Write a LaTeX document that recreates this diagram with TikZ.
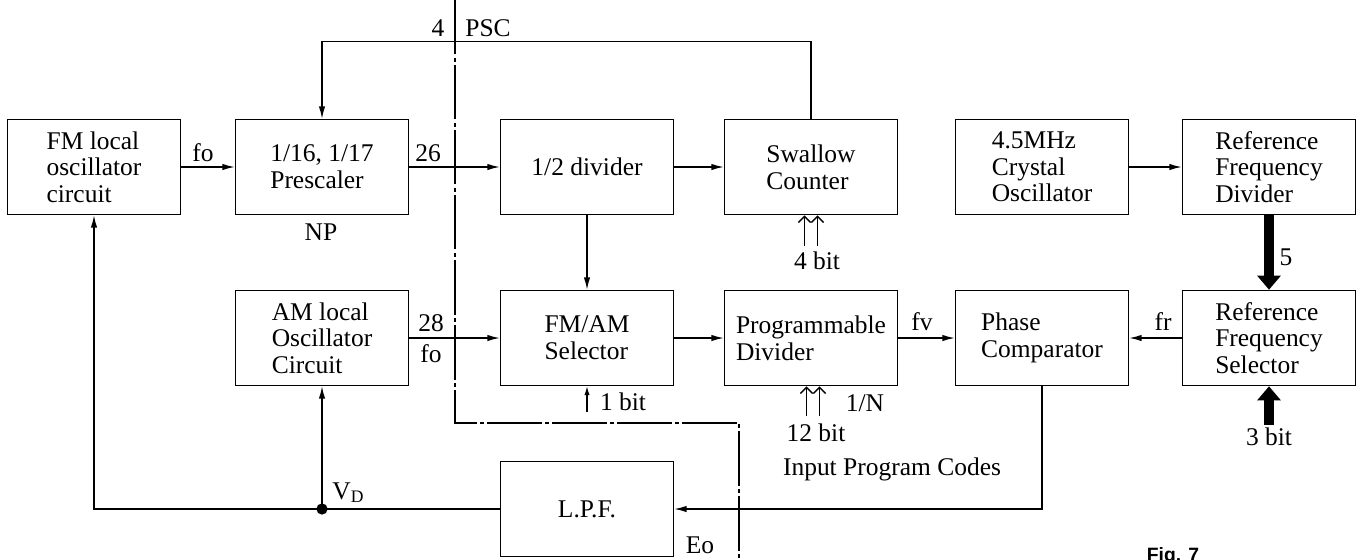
\documentclass[tikz,border=0pt]{standalone}
\usepackage{fontspec}
\setmainfont{Liberation Serif}
\newfontfamily\figfont{Liberation Sans}
\usetikzlibrary{arrows.meta}
\tikzset{
  blk/.style={draw, line width=0.9pt, minimum width=3.46cm, minimum height=1.9cm, align=left, inner sep=2pt, font=\fontsize{14.5}{15.2}\selectfont},
  lbl/.style={font=\fontsize{14.5}{15.2}\selectfont, inner sep=1pt},
  wire/.style={line width=0.7pt},
  arr/.style={wire, -{Latex[length=7pt,width=3.6pt]}},
  bus/.style={line width=6pt, -{Triangle[length=8pt,width=13pt]}},
  pin/.style={line width=0.8pt, -{Straight Barb[length=3.5pt,width=7pt]}},
  bound/.style={line width=1.1pt, dash pattern=on 31pt off 2pt on 2pt off 2pt},
}
\begin{document}
\begin{tikzpicture}[x=0.02cm, y=-0.02cm]
\useasboundingbox (0,0) rectangle (1361,559);
% upper row
\node[blk] (fmosc) at (94,167) {FM local\\oscillator\\circuit};
\node[blk] (presc) at (322,167) {1/16, 1/17\\Prescaler};
\node[blk] (half) at (587,167) {1/2 divider};
\node[blk] (swallow) at (811,167) {Swallow\\Counter};
\node[blk] (xtal) at (1042,167) {4.5MHz\\Crystal\\Oscillator};
\node[blk] (refdiv) at (1269,167) {Reference\\Frequency\\Divider};
% lower row
\node[blk] (amosc) at (322,338) {AM local\\Oscillator\\Circuit};
\node[blk] (sel) at (587,338) {FM/AM\\Selector};
\node[blk] (prog) at (811,338) {Programmable\\Divider};
\node[blk] (phase) at (1042,338) {Phase\\Comparator};
\node[blk] (refsel) at (1269,338) {Reference\\Frequency\\Selector};
\node[blk] (lpf) at (587,509) {L.P.F.};

% signal path
\draw[arr] (fmosc) -- (presc);
\draw[arr] (presc) -- (half);
\draw[arr] (half) -- (swallow);
\draw[arr] (xtal) -- (refdiv);
\draw[arr] (half) -- (sel);
\draw[arr] (amosc) -- (sel);
\draw[arr] (sel) -- (prog);
\draw[arr] (prog) -- (phase);
\draw[arr] (refsel) -- (phase);
\draw[arr] (swallow.north) -- ++(0,-77) -| (presc.north);
\draw[bus] (refdiv) -- (refsel);

% loop filter and feedback
\draw[arr] (phase.south) |- (lpf.east);
\draw[arr] (lpf.west) -| (fmosc.south);
\coordinate (vd) at (amosc.south |- lpf.west);
\fill (vd) circle (3.2pt);
\draw[arr] (vd) -- (amosc.south);

% control inputs
\coordinate (sc4) at (811,246);
\coordinate (pd12) at (813,416);
\coordinate (sel1) at (587,412);
\coordinate (rs3) at (1269,425);
\foreach \dx in {-3.7pt,3.7pt} {
  \draw[pin] ([xshift=\dx]sc4) -- ([xshift=\dx]sc4 |- swallow.south);
  \draw[pin] ([xshift=\dx]pd12) -- ([xshift=\dx]pd12 |- prog.south);
}
\draw[wire, -{Latex[length=5pt,width=3pt]}] (sel1) -- (sel.south);
\draw[bus] (rs3) -- (refsel.south);

% chip boundary
\coordinate (btop) at (455,0);
\coordinate (bleft) at (455,423);
\coordinate (bright) at (739,423);
\coordinate (bbot) at (739,559);
\draw[bound] (btop) -- (bleft) -- (bright) -- (bbot);

% labels
\node[lbl] (tfo1) at (203,153) {fo};
\node[lbl] (t26) at (428,153) {26};
\node[lbl] (tnp) at (321,232) {NP};
\node[lbl] (t4) at (438,28) {4};
\node[lbl] (tpsc) at (488,28) {PSC};
\node[lbl] (t28) at (431,323) {28};
\node[lbl] (tfo2) at (431,354) {fo};
\node[lbl] (tfv) at (922,322) {fv};
\node[lbl] (tfr) at (1163,322) {fr};
\node[lbl] (t5) at (1286,257) {5};
\node[lbl] (tsc4) at (817,261) {4 bit};
\node[lbl] (t1bit) at (623,402) {1 bit};
\node[lbl] (tn) at (865,403) {1/N};
\node[lbl] (t12) at (816,433) {12 bit};
\node[lbl] (t3bit) at (1269,437) {3 bit};
\node[lbl] (tcodes) at (892,469) {Input Program Codes};
\node[lbl] (tvd) at (348,493) {V\raisebox{-0.25ex}{\fontsize{10}{10}\selectfont D}};
\node[lbl] (teo) at (700,545) {Eo};
\node[anchor=base, inner sep=0pt, font=\figfont\bfseries\fontsize{11}{12}\selectfont] (tfig) at (1173,561) {Fig. 7};
\end{tikzpicture}
\end{document}
